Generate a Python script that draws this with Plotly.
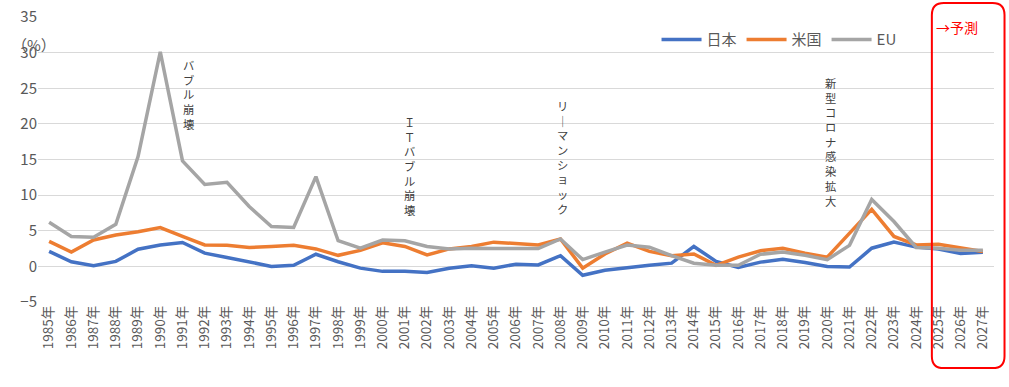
import plotly.graph_objects as go

years = [f"{y}年" for y in range(1985, 2028)]
japan = [2.1, 0.65, 0.1, 0.7, 2.4, 3.0, 3.35, 1.85, 1.25, 0.65, 0.0, 0.15, 1.7, 0.65,
         -0.25, -0.7, -0.7, -0.85, -0.25, 0.1, -0.25, 0.3, 0.2, 1.5, -1.25, -0.55, -0.15,
         0.15, 0.45, 2.8, 0.7, -0.15, 0.6, 1.0, 0.55, 0.0, -0.1, 2.55, 3.4, 2.7, 2.45, 1.8, 2.0]
usa = [3.5, 2.0, 3.7, 4.4, 4.85, 5.45, 4.2, 3.0, 2.95, 2.65, 2.8, 2.95, 2.45, 1.55,
       2.25, 3.3, 2.8, 1.6, 2.45, 2.8, 3.4, 3.25, 3.0, 3.85, -0.25, 1.75, 3.25,
       2.1, 1.5, 1.75, 0.15, 1.3, 2.2, 2.55, 1.85, 1.3, 4.7, 8.0, 4.2, 3.0, 3.1, 2.55, 2.1]
eu = [6.2, 4.2, 4.1, 5.9, 15.4, 30.1, 14.8, 11.5, 11.8, 8.4, 5.6, 5.45, 12.6, 3.6,
      2.55, 3.7, 3.6, 2.8, 2.45, 2.55, 2.5, 2.5, 2.5, 3.85, 0.95, 2.0, 3.0,
      2.7, 1.5, 0.45, 0.15, 0.15, 1.7, 2.0, 1.55, 0.95, 2.95, 9.4, 6.3, 2.65, 2.55, 2.25, 2.25]
series_names = ["日本", "米国", "EU"]
series_colors = ["#4472C4", "#ED7D31", "#A5A5A5"]

events = [("1991年", "バブル崩壊"), ("2001年", "ＩＴバブル崩壊"),
          ("2008年", "リ｜マンショック"), ("2020年", "新型コロナ感染拡大")]
event_tops = [29.6, 21.7, 23.9, 27.2]
event_xshift = [6, 5, 2, 3]

fig = go.Figure()
for name, vals, col in zip(series_names, [japan, usa, eu], series_colors):
    fig.add_trace(go.Scatter(x=years, y=vals, name=name, mode="lines",
                             line=dict(color=col, width=3.5)))

font = "Noto Sans CJK JP, Noto Sans, sans-serif"
gray = "#595959"

annotations = []
for (xc, txt), top, xs in zip(events, event_tops, event_xshift):
    annotations.append(dict(x=xc, y=top, xref="x", yref="y", text="<br>".join(list(txt)),
                            showarrow=False, yanchor="top", xanchor="center", xshift=xs,
                            font=dict(family=font, size=11.3, color="#404040")))
annotations.append(dict(x=-0.029, y=0.905, xref="paper", yref="paper", text="（%）",
                        showarrow=False, xanchor="left", yanchor="middle",
                        font=dict(family=font, size=15, color=gray)))
annotations.append(dict(x=0.937, y=0.965, xref="paper", yref="paper", text="→予測",
                        showarrow=False, xanchor="left", yanchor="middle",
                        font=dict(family=font, size=14, color="#FF0000")))

# rounded rectangle (paper coords)
x0, x1, y0, y1 = 0.935, 1.011, -0.232, 1.049
rx, ry = 0.0125, 0.042
path = (f"M {x0+rx},{y1} L {x1-rx},{y1} Q {x1},{y1} {x1},{y1-ry} L {x1},{y0+ry} "
        f"Q {x1},{y0} {x1-rx},{y0} L {x0+rx},{y0} Q {x0},{y0} {x0},{y0+ry} "
        f"L {x0},{y1-ry} Q {x0},{y1} {x0+rx},{y1} Z")

fig.update_layout(
    width=1009, height=387,
    margin=dict(l=38, r=15, t=17, b=85, autoexpand=False),
    paper_bgcolor="white", plot_bgcolor="white",
    font=dict(family=font, color=gray),
    showlegend=True,
    legend=dict(orientation="h", x=0.647, y=0.92, xanchor="left", yanchor="middle",
                font=dict(family=font, size=15, color=gray), bgcolor="rgba(0,0,0,0)",
                itemwidth=40, tracegroupgap=0),
    xaxis=dict(type="category", tickangle=-90, showgrid=False, showline=False,
               range=[-0.5, len(years) - 0.5],
               ticks="", automargin=False, tickfont=dict(family=font, size=13.5, color=gray)),
    yaxis=dict(range=[-5, 35], dtick=5, showgrid=True, gridcolor="#D9D9D9", gridwidth=1,
               zeroline=False, showline=False, ticks="", automargin=False,
               tickfont=dict(family=font, size=15, color=gray)),
    annotations=annotations,
    shapes=[dict(type="path", path=path, xref="paper", yref="paper",
                 line=dict(color="#FF0000", width=2))],
)

fig.write_html("out.html", config={"displayModeBar": False},
               post_script="document.body.style.margin='0';")
